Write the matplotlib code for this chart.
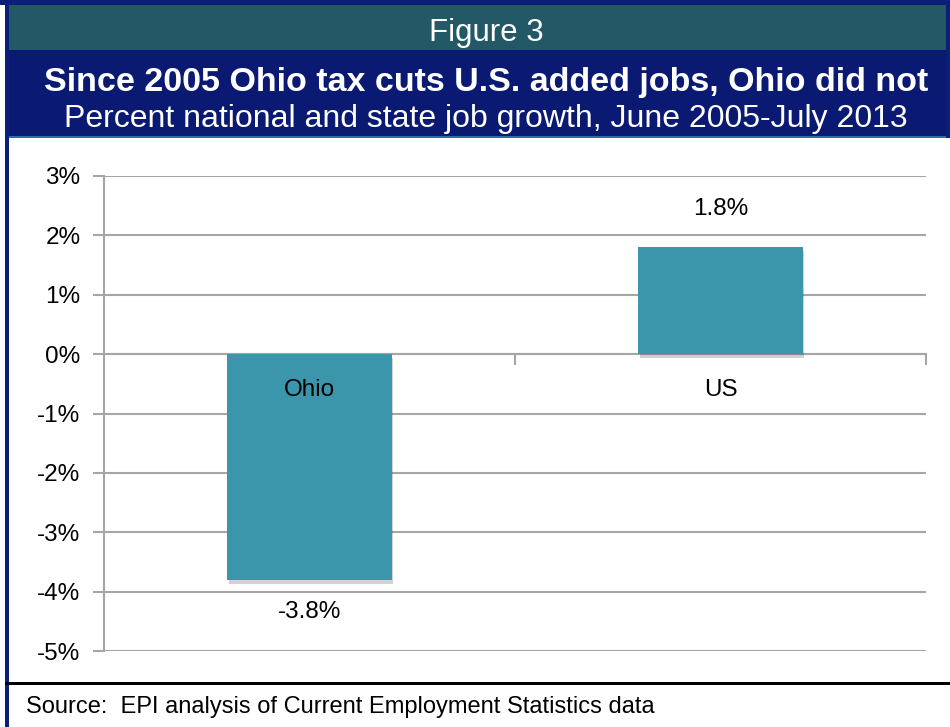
"""
Ohio vs US job growth bar chart, June 2005-July 2013.
"""

import matplotlib
matplotlib.use("Agg")
import matplotlib.pyplot as plt
import matplotlib.patheffects as pe
from matplotlib.patches import Rectangle

plt.rcParams["font.family"] = ["Liberation Sans", "DejaVu Sans"]

categories = ["Ohio", "US"]
growth = [-3.8, 1.8]
value_labels = ["-3.8%", "1.8%"]
yticks = [3, 2, 1, 0, -1, -2, -3, -4, -5]
ytick_labels = ["3%", "2%", "1%", "0%", "-1%", "-2%", "-3%", "-4%", "-5%"]

W, H = 950, 727
fig = plt.figure(figsize=(W / 100, H / 100), dpi=100)
fig.patch.set_facecolor("white")


def px_rect(x0, y0, x1, y1, color, z=0):
    # rectangle given in pixel coords (top-left origin)
    fig.patches.append(Rectangle((x0 / W, 1 - y1 / H), (x1 - x0) / W, (y1 - y0) / H,
                                 transform=fig.transFigure, facecolor=color,
                                 edgecolor="none", zorder=z))


# header bands and frame
px_rect(0, 0, W, 5, "#0c1f78")
px_rect(8, 5, W, 50, "#235866")
px_rect(8, 50, W, 136, "#0a1a72")
px_rect(8, 136, W, 138, "#2a6fb0")
px_rect(5, 0, 9, H, "#0c1f78")
px_rect(946, 0, W, 138, "#0c1f78")
px_rect(5, 682, W, 685, "#000000")

fig.text(486 / W, 1 - 33 / H, "Figure 3", color="white", fontsize=22.5,
         ha="center", va="center")
fig.text(486 / W, 1 - 82 / H, "Since 2005 Ohio tax cuts U.S. added jobs, Ohio did not",
         color="white", fontsize=24.5, fontweight="bold", ha="center", va="center")
fig.text(486 / W, 1 - 119 / H, "Percent national and state job growth, June 2005-July 2013",
         color="white", fontsize=23, ha="center", va="center")
fig.text(26 / W, 1 - 707 / H, "Source:  EPI analysis of Current Employment Statistics data",
         color="black", fontsize=17, ha="left", va="center")

# plot area
ax = fig.add_axes([104 / W, 1 - 651 / H, (926 - 104) / W, (651 - 176) / H])
ax.set_xlim(-0.5, 1.5)
ax.set_ylim(-5, 3)

grid_color = "#a6a6a6"
for y in yticks:
    ax.axhline(y, color=grid_color, linewidth=1.5, zorder=1)

x = range(len(categories))
bars = ax.bar(x, growth, width=0.4, color="#3c96ab", zorder=3)
for b in bars:
    b.set_path_effects([pe.SimplePatchShadow(offset=(1, -3), shadow_rgbFace="#000000", alpha=0.18),
                        pe.Normal()])

# category labels just below the zero line, values outside bar ends
for i, (cat, val, lab) in enumerate(zip(categories, growth, value_labels)):
    ax.text(i, -0.6, cat, ha="center", va="center", fontsize=17.5, zorder=4)
    y_lab = val + 0.65 if val > 0 else val - 0.55
    ax.text(i, y_lab, lab, ha="center", va="center", fontsize=17.5, zorder=4)

ax.set_yticks(yticks)
ax.set_yticklabels(ytick_labels, fontsize=17.5)
ax.tick_params(axis="y", length=8, width=1.5, color=grid_color, pad=9)

# category axis at zero with tick marks between categories
ax.spines["bottom"].set_position(("data", 0))
ax.spines["bottom"].set_color(grid_color)
ax.spines["bottom"].set_linewidth(1.5)
ax.set_xticks([0.5, 1.5])
ax.set_xticklabels([])
ax.tick_params(axis="x", length=8, width=1.5, color=grid_color, direction="out")

ax.spines["left"].set_color(grid_color)
ax.spines["left"].set_linewidth(1.5)
ax.spines["top"].set_visible(False)
ax.spines["right"].set_visible(False)
ax.set_facecolor("none")

fig.savefig("out.png", dpi=100)
plt.close(fig)
